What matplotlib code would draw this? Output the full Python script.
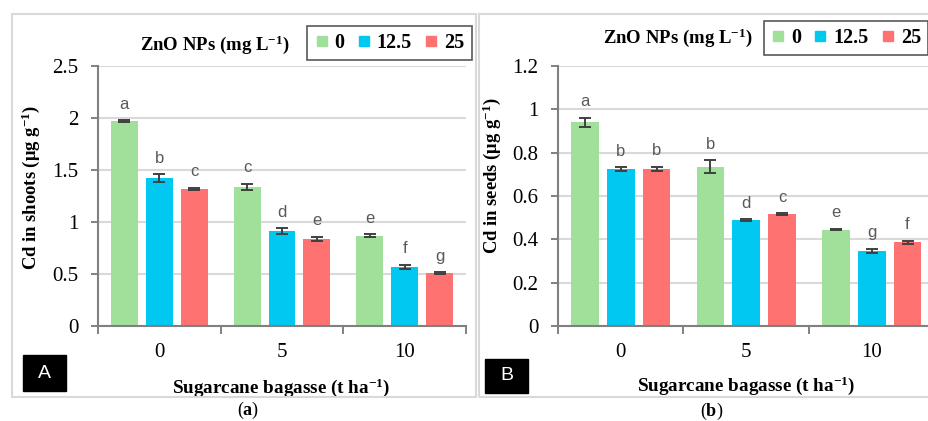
import numpy as np
import matplotlib.pyplot as plt
from matplotlib.patches import Rectangle
from matplotlib.lines import Line2D

plt.rcParams['font.family'] = 'Liberation Serif'
plt.rcParams['mathtext.fontset'] = 'custom'
plt.rcParams['mathtext.rm'] = 'Liberation Serif:bold'
plt.rcParams['mathtext.bf'] = 'Liberation Serif:bold'
plt.rcParams['mathtext.default'] = 'bf'

# Sugarcane bagasse rates (t/ha) and ZnO NP doses (mg/L)
bagasse = ['0', '5', '10']
zno_doses = ['0', '12.5', '25']
colors = ['#A0E09A', '#00C8F0', '#FF7272']

# Cd in shoots, one list per ZnO dose across bagasse rates
shoots_0 = [1.97, 1.34, 0.87]
shoots_125 = [1.42, 0.91, 0.57]
shoots_25 = [1.32, 0.84, 0.51]
shoots_err_0 = [0.01, 0.03, 0.01]
shoots_err_125 = [0.04, 0.03, 0.02]
shoots_err_25 = [0.01, 0.02, 0.01]
shoots_let_0 = ['a', 'c', 'e']
shoots_let_125 = ['b', 'd', 'f']
shoots_let_25 = ['c', 'e', 'g']

# Cd in seeds
seeds_0 = [0.94, 0.735, 0.445]
seeds_125 = [0.725, 0.488, 0.347]
seeds_25 = [0.725, 0.518, 0.386]
seeds_err_0 = [0.022, 0.03, 0.004]
seeds_err_125 = [0.008, 0.004, 0.01]
seeds_err_25 = [0.01, 0.004, 0.008]
seeds_let_0 = ['a', 'b', 'e']
seeds_let_125 = ['b', 'd', 'g']
seeds_let_25 = ['b', 'c', 'f']

W, H = 929, 421
fig = plt.figure(figsize=(W / 100, H / 100), dpi=100)


def fx(px):
    return px / W


def fy(py):
    return 1 - py / H


def draw_panel(rect, vals, errs, lets, ymax, yticks, ylabel, ylab_xy, xlab_xy):
    ax = fig.add_axes(rect)
    x = np.arange(len(bagasse))
    off = 0.285
    for i in range(3):
        pos = x + (i - 1) * off
        ax.bar(pos, vals[i], width=0.22, color=colors[i], zorder=3)
        ax.errorbar(pos, vals[i], yerr=errs[i], fmt='none', ecolor='#404040',
                    elinewidth=1.4, capsize=4, capthick=1.4, zorder=4)
        for p, v, e, t in zip(pos, vals[i], errs[i], lets[i]):
            ax.annotate(t, (p, v + e), xytext=(0, 6), textcoords='offset points',
                        ha='center', va='bottom', fontsize=12, color='#595959',
                        family='Liberation Sans')
    ax.set_xlim(-0.5, 2.5)
    ax.set_ylim(0, ymax)
    ax.set_yticks(yticks)
    ax.set_yticklabels([f'{t:g}' for t in yticks])
    ax.set_xticks([-0.5, 0.5, 1.5, 2.5])
    ax.set_xticklabels([])
    ax.set_xticks(x, bagasse, minor=True)
    ax.tick_params(axis='x', which='minor', length=0, pad=12, labelsize=15)
    ax.tick_params(axis='x', which='major', length=6, width=1.4, color='#808080')
    ax.tick_params(axis='y', length=5, width=1.4, color='#808080', pad=9, labelsize=15)
    ax.grid(axis='y', color='#D9D9D9', lw=1.5, zorder=0)
    for s in ['top', 'right']:
        ax.spines[s].set_visible(False)
    for s in ['left', 'bottom']:
        ax.spines[s].set_color('#808080')
        ax.spines[s].set_linewidth(1.5)
        ax.spines[s].set_zorder(5)
    ax.set_ylabel(ylabel, fontsize=13.4, fontweight='bold')
    ax.yaxis.set_label_coords(*ylab_xy)
    ax.set_xlabel(r'Sugarcane bagasse (t ha$^{-1}$)', fontsize=13.8, fontweight='bold')
    ax.xaxis.set_label_coords(*xlab_xy)
    return ax


axA = draw_panel([fx(98), fy(326), fx(368), 260 / H],
                 [shoots_0, shoots_125, shoots_25],
                 [shoots_err_0, shoots_err_125, shoots_err_25],
                 [shoots_let_0, shoots_let_125, shoots_let_25],
                 2.5, [0, 0.5, 1, 1.5, 2, 2.5],
                 r'Cd in shoots (μg g$^{-1}$)', (-0.152, 0.533), (0.499, -0.196))
axB = draw_panel([fx(558), fy(326), fx(376.5), 260 / H],
                 [seeds_0, seeds_125, seeds_25],
                 [seeds_err_0, seeds_err_125, seeds_err_25],
                 [seeds_let_0, seeds_let_125, seeds_let_25],
                 1.2, [0, 0.2, 0.4, 0.6, 0.8, 1, 1.2],
                 r'Cd in seeds (μg g$^{-1}$)', (-0.146, 0.58), (0.499, -0.188))

# panel frames
fig.patches.append(Rectangle((fx(12), fy(397)), fx(464), 383 / H, transform=fig.transFigure,
                             fill=False, ec='#D9D9D9', lw=1.5))
fig.patches.append(Rectangle((fx(479), fy(397)), fx(470), 383 / H, transform=fig.transFigure,
                             fill=False, ec='#D9D9D9', lw=1.5))

# legends
handles = [Line2D([], [], ls='none', marker='s', ms=7, mfc=c, mec=c) for c in colors]
for ax, loc, ax_x, ax_y, tx, ty in [(axA, 'center', 389.5, 43, 215, 45),
                                    (axB, 'center right', 928, 38, 677.5, 38)]:
    leg = ax.legend(handles, zno_doses, ncol=3, loc=loc,
                    bbox_to_anchor=(fx(ax_x), fy(ax_y)), bbox_transform=fig.transFigure,
                    prop={'family': 'Liberation Serif', 'weight': 'bold', 'size': 14.5},
                    handlelength=0.7, handletextpad=0.3, columnspacing=0.6,
                    borderpad=0.35, borderaxespad=0, fancybox=False, framealpha=1)
    leg.get_frame().set_edgecolor('#595959')
    leg.get_frame().set_linewidth(1.2)
    fig.text(fx(tx), fy(ty), r'ZnO NPs (mg L$^{-1}$)', ha='center', va='center',
             fontsize=13.5, fontweight='bold')

# panel tags
for lab, x0, y0, x1, y1 in [('A', 23, 355, 66, 391), ('B', 485, 359, 528, 393)]:
    fig.patches.append(Rectangle((fx(x0), fy(y1)), fx(x1 - x0), (y1 - y0) / H,
                                 transform=fig.transFigure, color='black'))
    fig.text(fx((x0 + x1) / 2), fy((y0 + y1) / 2), lab, color='white', ha='center',
             va='center', fontsize=14, family='Liberation Sans')

# captions
fig.text(fx(248), fy(410), r'($a$)', ha='center', va='center', fontsize=13)
fig.text(fx(712), fy(411), r'($b$)', ha='center', va='center', fontsize=13)

fig.savefig('out.png', dpi=100)
